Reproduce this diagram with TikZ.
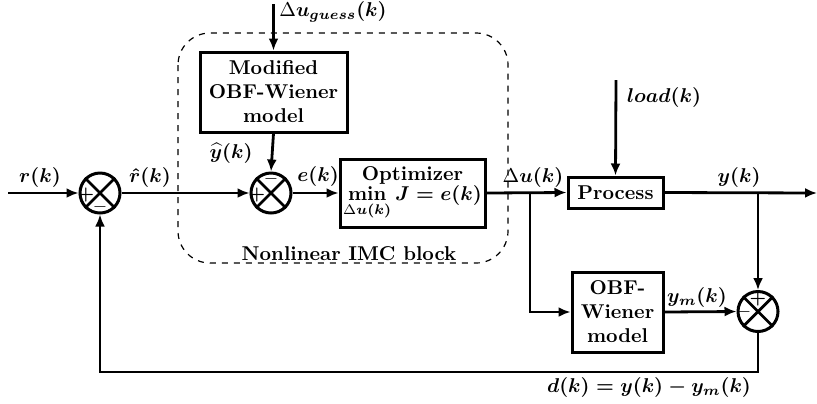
\documentclass[tikz,border=0pt]{standalone}
\usetikzlibrary{arrows.meta,calc}
\newcommand{\nDi}[2]{\mbox{\unboldmath$#1\Delta$}}
\newcommand{\nD}{\mathpalette\nDi\relax}
\begin{document}
\begin{tikzpicture}[x=0.5pt,y=-0.5pt,
  font=\bfseries\boldmath,
  line width=1.4pt,
  arr/.style={-{Latex[length=6pt,width=5pt]}},
  blk/.style={draw,line width=1.5pt,align=center,inner sep=0pt},
  sumnode/.style={draw,circle,line width=1.5pt,minimum size=20pt,inner sep=0pt},
  sgn/.style={font=\bfseries\small,inner sep=0pt},
  lbl/.style={inner sep=1pt}
]
\useasboundingbox (0,0) rectangle (817,403);

% dashed IMC block
\draw[dashed,line width=0.6pt,rounded corners=16pt] (178,33) rectangle (508,263);
\node[lbl] (imc) at (349,254) {Nonlinear IMC block};

% blocks
\node[blk,minimum width=73.5pt,minimum height=40pt] (mod) at (273.5,92) {Modified\\OBF-Wiener\\model};
\node[blk,minimum width=72.5pt,minimum height=34pt] (opt) at (412.5,193) {Optimizer\\[-2pt]$\displaystyle\min_{\nD u(k)} J = e(k)$};
\node[blk,minimum width=47.5pt,minimum height=15.5pt] (proc) at (615.5,192.5) {Process};
\node[blk,minimum width=45.5pt,minimum height=40pt] (obf) at (617.5,312) {OBF-\\Wiener\\model};

% summing junctions
\node[sumnode] (sA) at (100,193) {};
\draw (sA.north west) -- (sA.south east) (sA.north east) -- (sA.south west);
\node[sgn] at ($(sA.center)+(-7pt,-1pt)$) {+};
\node[sgn] at ($(sA.center)+(0pt,-7pt)$) {$-$};

\node[sumnode] (sB) at (271,193) {};
\draw (sB.north west) -- (sB.south east) (sB.north east) -- (sB.south west);
\node[sgn] at ($(sB.center)+(-7pt,-1pt)$) {+};
\node[sgn] at ($(sB.center)+(0pt,7pt)$) {$-$};

\node[sumnode] (sC) at (758,311.5) {};
\draw (sC.north west) -- (sC.south east) (sC.north east) -- (sC.south west);
\node[sgn] at ($(sC.center)+(0pt,6.5pt)$) {+};
\node[sgn] at ($(sC.center)+(-7pt,0pt)$) {$-$};

% free ends and branch points
\coordinate (in) at (8,193);
\coordinate (guess) at (273.5,4);
\coordinate (load) at (616,80);
\coordinate (br1) at (530,193);
\coordinate (br2) at (758,193);
\coordinate (out) at (817,193);
\coordinate (fb) at (758,372);

% connectors
\draw[arr] (in) -- (sA.west);
\draw[arr] (sA.east) -- (sB.west);
\draw[arr] (sB.east) -- (opt.west);
\draw[arr] (opt.east) -- (proc.west);
\draw[arr] (br1) |- (obf.west);
\draw[arr] (proc.east) -- (out);
\draw[arr] (br2) -- (sC.north);
\draw[arr] (obf.east) -- (sC.west);
\draw[arr] (sC.south) -- (fb) -| (sA.south);
\draw[arr] (guess) -- (mod.north);
\draw[arr] (mod.south) -- (sB.north);
\draw[arr] (load) -- (proc.north);

% labels
\node[lbl] (lr) at (40,177) {$r(k)$};
\node[lbl] (lrh) at (150,177) {$\hat r(k)$};
\node[lbl] (lg) at (333,12) {$\nD u_{guess}(k)$};
\node[lbl] (lyh) at (231,153) {$\widehat{y}(k)$};
\node[lbl] (le) at (318,176) {$e(k)$};
\node[lbl] (ldu) at (533,177) {$\nD u(k)$};
\node[lbl] (lload) at (664,97) {$load(k)$};
\node[lbl] (ly) at (739,177) {$y(k)$};
\node[lbl] (lym) at (697,297) {$y_m(k)$};
\node[lbl] (ld) at (649,387) {$d(k) = y(k) - y_m(k)$};
\end{tikzpicture}
\end{document}
